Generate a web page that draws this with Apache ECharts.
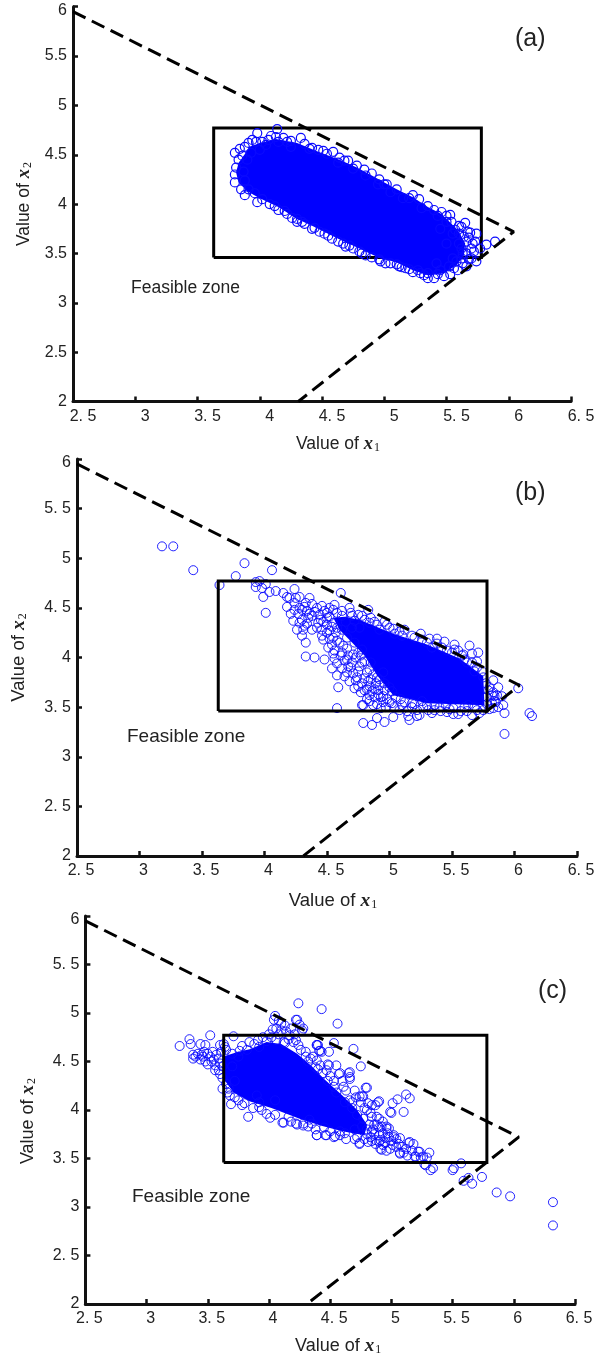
<!DOCTYPE html>
<html><head><meta charset="utf-8">
<style>html,body{margin:0;padding:0;background:#fff}#c{width:604px;height:1358px}</style>
<script src="https://cdn.jsdelivr.net/npm/echarts@6/dist/echarts.min.js"></script>
</head><body><div id="c"></div>
<script>
const xTickLabels = ['2. 5','3','3. 5','4','4. 5','5','5. 5','6','6. 5'];
const yTickLabelsA = ['2','2.5','3','3.5','4','4.5','5','5.5','6'];
const yTickLabelsBC = ['2','2. 5','3','3. 5','4','4. 5','5','5. 5','6'];
const feasibleEdge = [[2.5,5.95],[6.04,3.72],[4.31,2]];
const designBox = [[3.63,3.46],[3.63,4.77],[5.78,4.77],[5.78,3.46],[3.63,3.46]];

const coreA = [[3.83,4.42],[3.86,4.47],[3.92,4.58],[4.00,4.62],[4.13,4.66],[4.30,4.62],[4.47,4.53],[4.64,4.45],[4.78,4.37],[4.90,4.29],[5.10,4.15],[5.23,4.07],[5.35,3.97],[5.46,3.90],[5.54,3.80],[5.60,3.72],[5.65,3.60],[5.64,3.48],[5.58,3.38],[5.48,3.30],[5.35,3.28],[5.23,3.33],[5.10,3.41],[4.97,3.45],[4.80,3.55],[4.63,3.65],[4.42,3.78],[4.30,3.85],[4.15,3.97],[4.00,4.06],[3.90,4.13],[3.83,4.22],[3.81,4.32]];
const ringsA = [[3.80,4.52],[3.86,4.49],[3.83,4.45],[3.81,4.37],[3.80,4.30],[3.80,4.22],[3.85,4.15],[3.88,4.09],[3.98,4.02],[3.96,4.11],[3.91,4.62],[3.94,4.65],[3.98,4.72],[4.02,4.63],[4.09,4.69],[4.14,4.76],[4.13,4.68],[4.19,4.67],[4.25,4.64],[4.33,4.67],[4.36,4.61],[4.47,4.55],[4.51,4.54],[4.59,4.53],[4.64,4.47],[4.71,4.44],[4.78,4.39],[4.90,4.31],[4.15,3.94],[4.30,3.82],[4.42,3.75],
[5.23,4.09],[5.35,3.98],[5.46,3.92],[5.53,3.89],[5.54,3.82],[5.65,3.81],[5.62,3.77],[5.69,3.71],[5.74,3.70],[5.73,3.62],[5.77,3.55],[5.82,3.59],[5.89,3.62],[5.74,3.42],[5.66,3.37],[5.59,3.33],[5.53,3.29],[5.48,3.27],[5.40,3.25],[5.35,3.25],[5.29,3.30],[5.23,3.31],[5.17,3.35],[5.10,3.39],[5.01,3.40],[4.96,3.44],
[4.05,4.60],[3.93,4.52],[3.90,4.45],[3.87,4.33],[3.88,4.24],[3.91,4.15],[4.02,4.05],[4.08,4.00],[4.22,3.90],[4.36,3.80],[4.52,3.70],[4.63,3.62],[4.69,3.57],[4.75,3.55],[4.85,3.48],[4.97,3.42],[4.30,3.85],[4.48,3.72],[4.58,3.65],[4.80,3.52],
[5.60,3.70],[5.66,3.62],[5.70,3.55],[5.66,3.50],[5.70,3.45],[5.62,3.45],[5.58,3.42],[5.52,3.37],[5.45,3.33],[5.35,3.30],[5.27,3.33],[5.12,3.37],[5.62,3.55],[5.55,3.70],[5.60,3.78],[5.50,3.82],[5.43,3.88],[5.30,3.96],[5.15,4.06],[5.05,4.12],[4.95,4.20],[4.85,4.29],[4.75,4.36],[4.63,4.42],[5.68,3.66],[5.63,3.40],[5.55,3.45],[5.60,3.60],[5.45,3.75],[5.50,3.60],[5.42,3.40],[4.40,4.56],[4.15,4.63],[4.00,4.55],[4.25,4.58],[5.00,4.20],[5.20,4.06],
[4.12,3.98],[4.20,3.93],[4.26,3.86],[4.34,3.82],[4.44,3.76],[4.55,3.68],[4.67,3.60],[4.72,3.58],[4.82,3.50],[4.90,3.46],[5.05,3.40],[5.14,3.36],[5.20,3.34],[5.32,3.28],[5.43,3.29],[5.56,3.35],[5.63,3.50],[3.84,4.56],[3.88,4.58],[3.97,4.63],[4.07,4.65],[4.22,4.63],[4.42,4.57],[4.54,4.51],[4.68,4.44],[4.84,4.35],[4.96,4.25],[5.02,4.20],[5.10,4.15],[5.28,4.05],[5.40,3.94],[5.50,3.88],[5.67,3.72],[5.71,3.60],[5.68,3.44],[5.72,3.52],[5.64,3.67],[5.57,3.74]];

const coreB = [[4.55,4.40],[4.64,4.41],[4.76,4.38],[5.03,4.24],[5.30,4.13],[5.56,3.99],[5.75,3.81],[5.76,3.52],[5.30,3.54],[5.03,3.62],[4.90,3.82],[4.80,4.02],[4.70,4.15],[4.60,4.28]];
const ringsB = [[3.18,5.12],[3.27,5.12],[3.43,4.88],[3.84,4.95],[3.77,4.82],[4.06,4.88],[3.64,4.73],[3.93,4.76],[3.96,4.77],[3.93,4.71],[4.01,4.74],[3.99,4.61],[4.01,4.45],[3.98,4.70],[4.04,4.66],[4.09,4.67],[4.15,4.65],[4.24,4.69],[4.18,4.61],[4.61,4.65],
[4.20,4.60],[4.18,4.51],[4.24,4.55],[4.28,4.61],[4.36,4.60],[4.23,4.37],[4.26,4.28],[4.31,4.28],[4.33,4.15],[4.33,4.01],[4.40,4.00],[4.48,3.98],[4.54,3.89],[4.58,3.94],[4.58,3.82],[4.64,3.81],[4.59,3.70],[4.72,3.69],[4.75,3.71],[4.58,3.49],[4.78,3.52],[4.30,4.48],[4.40,4.46],[4.42,4.30],[4.46,4.28],[4.54,4.13],[4.56,4.53],[4.68,4.50],[4.75,4.43],[4.52,4.41],[4.35,4.40],[4.30,4.38],[4.56,3.99],[4.67,3.91],[4.71,4.03],[4.66,4.09],[4.75,3.86],
[4.83,4.48],[4.88,4.36],[5.03,4.29],[5.32,4.19],[5.38,4.19],[5.52,4.13],[5.64,4.12],[5.71,4.05],[5.66,4.04],[5.59,4.03],[5.74,3.86],[5.83,3.77],[5.87,3.70],[6.03,3.69],[5.79,3.67],[5.84,3.61],[5.90,3.61],[5.91,3.52],[5.87,3.50],[5.92,3.44],[6.12,3.44],[6.14,3.41],[5.82,3.54],[5.83,3.49],
[5.16,3.37],[4.96,3.35],[4.90,3.39],[4.86,3.32],[4.79,3.34],[5.24,3.42],[5.22,3.41],[4.79,3.52],[4.93,3.49],[5.03,3.40],[5.15,3.41],[5.34,3.44],[5.51,3.43],[5.55,3.43],[5.66,3.42],[5.72,3.44],[5.48,3.48],[5.92,3.23],
[4.80,3.67],[4.84,3.62],[4.88,3.60],[4.80,3.79],[4.84,3.71],[4.91,3.67],[4.95,3.61],[5.02,3.54],[5.10,3.52],[5.18,3.50],[5.27,3.50],[5.40,3.50],[4.87,3.52],[4.96,3.74],
[4.50,4.40],[4.55,4.35],[4.62,4.42],[4.50,4.25],[4.55,4.20],[4.60,4.15],[4.62,4.28],[4.66,4.20],[4.70,4.30],[4.72,4.15],[4.75,4.05],[4.70,3.95],[4.78,3.95],[4.82,3.85],[4.85,3.95],[4.85,3.78],[4.90,3.80],[4.95,3.85],[4.88,3.68],[4.93,3.60],[5.00,3.70],[5.05,3.60],[5.00,3.55],[5.12,3.55],[5.20,3.53],[5.30,3.52],[5.45,3.52],[5.60,3.50],[5.68,3.50],[4.38,4.42],[4.42,4.50],[4.48,4.47],[4.52,4.50],[4.34,4.47],[4.28,4.50],[4.33,4.55],[4.25,4.60],[4.70,4.42],[4.80,4.38],[4.90,4.33],[5.00,4.30],[5.10,4.22],[5.20,4.20],[5.30,4.15],[5.42,4.10],[5.50,4.05],[5.60,3.98],[5.70,3.90],[5.75,3.80],[5.80,3.70],[5.78,3.60],[5.78,3.53],
[4.45,4.38],[4.58,4.30],[4.47,4.18],[4.52,4.27],[4.66,3.98],[4.62,4.05],[4.78,4.08],[4.74,3.80],[4.68,3.76],[4.82,3.58],[4.92,3.72],[4.97,3.50],[5.08,3.47],[5.36,3.47],[5.62,3.46],[4.58,4.45],[4.65,4.36],[4.76,4.30],[4.85,4.40],[4.96,4.36],[5.12,4.28],[5.25,4.24],[5.44,4.16],[5.55,4.07],[5.66,3.95],[5.82,3.62],[5.84,3.56],
[4.36,4.44],[4.44,4.43],[4.50,4.45],[4.47,4.36],[4.54,4.31],[4.43,4.35],[4.50,4.33],[4.57,4.25],[4.46,4.22],[4.52,4.19],[4.58,4.17],[4.63,4.12],[4.51,4.10],[4.56,4.07],[4.61,4.02],[4.67,4.02],[4.55,4.04],[4.64,3.97],[4.69,3.90],[4.73,4.00],[4.77,4.02],[4.62,3.89],[4.66,3.85],[4.71,3.84],[4.76,3.91],[4.80,3.96],[4.84,3.88],[4.73,3.77],[4.78,3.74],[4.83,3.76],[4.87,3.83],[4.89,3.74],[4.92,3.78],[4.77,3.65],[4.82,3.68],[4.86,3.66],[4.91,3.63],[4.96,3.67],[4.98,3.58],[5.02,3.66],[4.84,3.56],[4.90,3.53],[4.95,3.55],[5.04,3.50],[5.09,3.58],[5.14,3.46],[5.18,3.54],[5.22,3.47],[5.26,3.56],[5.31,3.47],[5.36,3.52],[5.41,3.46],[5.46,3.45],[5.51,3.49],[5.57,3.46],[5.63,3.52],[5.70,3.47],[5.75,3.47],[5.80,3.48],[5.85,3.55],[5.83,3.65],[5.86,3.62],[5.77,3.74],[5.70,3.96],[5.62,3.95],[5.68,3.86],[5.58,4.02],[5.52,4.08],[5.46,4.07],[5.38,4.14],[5.34,4.10],[5.26,4.18],[5.18,4.22],[5.08,4.26],[5.04,4.24],[4.98,4.33],[4.92,4.28],[4.84,4.35],[4.78,4.42],[4.72,4.37],[4.69,4.45],[4.62,4.47],[4.55,4.48],[4.46,4.52],[4.38,4.54],[4.32,4.51],[4.27,4.44],[4.24,4.48],[4.21,4.44],[4.28,4.35],[4.34,4.34],[4.38,4.28],[4.30,4.22],[4.32,4.32]];

const coreC = [[3.62,4.55],[3.75,4.60],[3.85,4.63],[3.98,4.70],[4.10,4.68],[4.23,4.58],[4.35,4.45],[4.45,4.32],[4.60,4.15],[4.72,4.00],[4.80,3.85],[4.78,3.74],[4.60,3.78],[4.42,3.84],[4.25,3.91],[4.02,4.02],[3.84,4.09],[3.71,4.18],[3.63,4.32]];
const ringsC = [[4.24,5.10],[4.43,5.04],[4.56,4.89],[4.22,4.93],[4.05,4.97],[4.04,4.93],[4.10,4.89],[4.25,4.88],[4.27,4.82],[3.27,4.66],[3.35,4.73],[3.36,4.68],[3.44,4.68],[3.48,4.67],[3.52,4.77],[3.38,4.57],[3.38,4.53],[3.45,4.57],[3.71,4.76],[3.63,4.68],[3.83,3.93],[3.69,4.06],[4.11,3.87],[4.39,3.74],[4.22,3.86],[4.28,3.86],[4.69,4.63],[4.75,4.45],[4.53,4.69],[4.55,4.46],[4.57,4.37],[4.65,4.38],[4.66,4.32],[4.79,4.23],[4.49,4.60],[4.48,4.47],[4.40,4.67],[4.41,4.61],[4.90,4.09],[5.01,4.07],[5.05,4.11],[5.12,4.16],[5.15,4.12],[5.10,3.98],[4.99,3.98],[4.84,4.05],[4.74,4.14],[4.77,4.14],[4.80,4.00],
[5.14,3.66],[5.18,3.65],[5.31,3.56],[5.23,3.57],[5.20,3.52],[5.24,3.51],[5.29,3.51],[5.27,3.44],[5.32,3.38],[5.34,3.40],[5.50,3.38],[5.57,3.45],[5.59,3.27],[5.63,3.30],[5.66,3.24],[5.74,3.31],[5.86,3.15],[5.97,3.11],[6.32,3.05],[6.32,2.81],
[4.98,3.81],[5.02,3.74],[4.95,3.71],[4.90,3.74],[5.07,3.71],[5.01,3.64],[5.07,3.55],[5.10,3.56],[4.91,3.60],[4.95,3.66],[4.96,3.83],[5.04,3.62],[4.87,3.69],[4.74,3.66],[4.63,3.70],[4.54,3.73],[4.46,3.74],[4.82,3.85],[4.90,3.91],[4.77,3.91],
[3.42,4.58],[3.46,4.55],[3.50,4.58],[3.54,4.60],[3.53,4.50],[3.59,4.53],[3.48,4.50],[3.59,4.41],[3.56,4.46],[3.62,4.33],[3.60,4.67],[3.64,4.65],[3.76,4.61],[3.84,4.70],[3.91,4.72],[3.98,4.71],[4.06,4.72],[4.13,4.69],[4.20,4.70],[4.06,4.84],[4.03,4.83],[4.10,4.82],[4.23,4.93],[4.28,4.84],[4.14,4.81],[4.17,4.77],[4.39,4.67],[4.43,4.60],[4.36,4.55],[4.42,4.46],[4.47,4.41],[4.39,4.51],[4.24,4.67],
[3.68,4.15],[3.75,4.10],[3.87,4.02],[3.98,3.96],[4.01,3.92],[4.12,3.87],[4.23,3.85],[4.39,3.74],[4.47,3.74],[3.78,4.05],[3.94,4.00],[4.16,3.93],[4.33,3.90],[3.67,4.22],[3.65,4.27],
[4.53,3.72],[4.74,3.65],[4.28,3.84],[4.66,4.39],[4.66,4.34],[4.58,4.38],[4.49,4.46],[4.42,4.61],[4.39,4.67],[4.80,4.23],[4.76,4.14],[4.71,4.13],[4.89,4.08],[4.87,4.05],[4.81,4.07],[4.84,3.93],[4.88,3.93],[4.66,4.10],[4.61,4.24],[4.53,4.24],[5.00,3.97],[4.96,3.81],[5.02,3.72],[4.91,3.69],[5.06,3.65],[4.99,3.60],[5.15,3.67],[5.22,3.57],[5.19,3.52],[5.26,3.52],[5.28,3.43],[5.51,3.40],[4.92,3.59],[4.87,3.65],[4.81,3.67],[4.93,3.76],[5.07,3.56],[5.13,3.53],
[4.62,3.76],[4.72,3.72],[4.80,3.75],[4.85,3.80],[4.70,3.80],[4.58,3.78],[4.45,3.82],[4.35,3.86],[4.68,4.02],[4.72,3.95],[4.62,4.08],[4.55,4.18],[4.48,4.30],[4.40,4.42],[4.30,4.55],[4.05,4.10],[3.90,4.15],[3.92,4.08],[3.72,4.30],[3.70,4.45],[3.75,4.55],[3.92,4.65],[4.00,4.78],[4.12,4.70],[4.32,4.50],
[3.40,4.55],[3.44,4.52],[3.47,4.60],[3.52,4.55],[3.55,4.52],[3.50,4.47],[3.57,4.57],[3.60,4.48],[3.56,4.41],[3.60,4.37],[3.61,4.60],[3.62,4.45],[3.65,4.62],[3.70,4.58],[3.78,4.66],[3.82,4.62],[3.88,4.68],[3.95,4.75],[4.02,4.75],[4.08,4.78],[4.16,4.73],[4.21,4.78],[4.13,4.87],[4.18,4.84],[4.08,4.92],[4.22,4.72],[4.26,4.62],[4.30,4.60],[4.34,4.53],[4.38,4.44],[4.44,4.38],[4.50,4.35],[4.53,4.30],[4.60,4.30],[4.63,4.20],[4.70,4.20],[4.68,4.08],[4.75,4.08],[4.78,4.02],[4.83,3.97],[4.86,3.85],[4.80,3.80],[4.90,3.82],[4.86,3.75],[4.92,3.83],[4.98,3.72],[4.90,3.67],[4.70,3.70],[4.58,3.74],[4.50,3.78],[4.38,3.80],[4.32,3.83],[4.18,3.88],[4.05,3.95],[3.92,4.03],[3.80,4.07],[3.72,4.13],[3.66,4.18],[3.62,4.22],
[4.84,3.78],[4.88,3.85],[4.93,3.88],[4.97,3.76],[5.00,3.68],[5.04,3.70],[5.09,3.62],[5.12,3.60],[5.17,3.58],[4.83,3.72],[4.78,3.70],[4.84,3.68],[4.76,3.83],[4.93,3.64],[4.96,3.58]];

const panels = [
  {key:'a', rings:ringsA, core:coreA, yLabels:yTickLabelsA, left:73, right:571, top:6.7, bottom:401.5, xShift:20, axisW:3, xPad:32, yPad:0, yGap:37, xGap:33, ringW:1.2, boxZ:2, ringZ:3, markZ:4, nameFs:17.5},
  {key:'b', rings:ringsB, core:coreB, yLabels:yTickLabelsBC, left:77, right:577, top:459, bottom:856, xShift:8, axisW:3, xPad:12, yPad:0, yGap:48, xGap:35, ringW:0.9, boxZ:4, ringZ:3, markZ:5, nameFs:18.5},
  {key:'c', rings:ringsC, core:coreC, yLabels:yTickLabelsBC, left:85.4, right:575, top:916, bottom:1304, xShift:8, axisW:3, xPad:16, yPad:22, yGap:48, xGap:33, ringW:0.9, boxZ:4, ringZ:3, markZ:5, nameFs:18}
];
const SANS = '"Liberation Sans", Arial, sans-serif';
const nameRich = (fs) => ({
  t:{fontFamily:SANS,fontSize:fs,color:'#222'},
  x:{fontFamily:'"Liberation Serif",serif',fontSize:fs+1,fontStyle:'italic',fontWeight:'bold',color:'#222'},
  s:{fontFamily:'"Liberation Serif",serif',fontSize:12,color:'#222',verticalAlign:'bottom',padding:[4,0,0,1]}
});
const grid=[],xAxis=[],yAxis=[],series=[];
panels.forEach((p,i)=>{
  grid.push({left:p.left,width:p.right-p.left,top:p.top,height:p.bottom-p.top,show:false});
  xAxis.push({type:'value',gridIndex:i,min:2.5,max:6.5,interval:0.5,splitLine:{show:false},
    axisLine:{onZero:false,lineStyle:{color:'#111',width:p.axisW}},
    axisTick:{inside:true,length:5,lineStyle:{color:'#111',width:2.5}},
    axisLabel:{margin:7,fontSize:16,fontFamily:SANS,color:'#222',showMinLabel:true,showMaxLabel:true,hideOverlap:false,
      padding:[0,0,0,p.xShift],formatter:(v)=>xTickLabels[Math.round((v-2.5)/0.5)]},
    name:'{t|Value of }{x|x}{s|1}',nameLocation:'middle',nameGap:p.xGap,
    nameTextStyle:{rich:nameRich(p.nameFs),padding:[0,0,0,p.xPad]}
  });
  yAxis.push({type:'value',gridIndex:i,min:2,max:6,interval:0.5,splitLine:{show:false},
    axisLine:{onZero:false,lineStyle:{color:'#111',width:p.axisW}},
    axisTick:{inside:true,length:5,lineStyle:{color:'#111',width:2.5}},
    axisLabel:{margin:6,fontSize:16,fontFamily:SANS,color:'#222',showMinLabel:true,showMaxLabel:true,hideOverlap:false,
      formatter:(v)=>{const s=p.yLabels[Math.round((v-2)/0.5)];return v===6?'{d|'+s+'}':s;},
      rich:{d:{fontSize:16,fontFamily:SANS,color:'#222',padding:[8,0,0,0]}}},
    name:'{t|Value of }{x|x}{s|2}',nameLocation:'middle',nameGap:p.yGap,
    nameTextStyle:{rich:nameRich(p.nameFs),padding:[0,p.yPad,0,0]}
  });
  series.push({type:'custom',name:'core '+p.key,coordinateSystem:'cartesian2d',xAxisIndex:i,yAxisIndex:i,z:p.ringZ,clip:false,silent:true,
    data:p.core,encode:{x:0,y:1},
    renderItem:(params,api)=>{
      if(params.dataIndex!==0) return null;
      return {type:'polygon',shape:{points:p.core.map(c=>api.coord(c))},style:{fill:'#0000ff'}};
    }});
  series.push({type:'scatter',name:'samples '+p.key,xAxisIndex:i,yAxisIndex:i,z:p.ringZ,symbol:'circle',symbolSize:9,clip:false,silent:true,
    data:p.rings,itemStyle:{color:'transparent',borderColor:'#0a0aff',borderWidth:p.ringW,opacity:1}});
  series.push({type:'line',name:'design box '+p.key,xAxisIndex:i,yAxisIndex:i,z:p.boxZ,data:designBox,symbol:'none',silent:true,clip:false,
    lineStyle:{color:'#000',width:3,join:'miter'}});
  series.push({type:'line',name:'feasible edge '+p.key,xAxisIndex:i,yAxisIndex:i,z:p.markZ,data:feasibleEdge,symbol:'none',silent:true,clip:false,
    lineStyle:{color:'#000',width:3,type:[14,7]}});
});
const noteStyle=(t,fs)=>({text:t,font:fs+'px '+SANS,fill:'#222'});
const graphic=[
  {type:'text',left:131,top:279,style:noteStyle('Feasible zone',17.5)},
  {type:'text',left:127,top:727,style:noteStyle('Feasible zone',19)},
  {type:'text',left:132,top:1187,style:noteStyle('Feasible zone',19)},
  {type:'text',left:515,top:27,style:noteStyle('(a)',25)},
  {type:'text',left:515,top:481,style:noteStyle('(b)',25)},
  {type:'text',left:538,top:979,style:noteStyle('(c)',25)}
];
const chart=echarts.init(document.getElementById('c'),null,{renderer:'canvas'});
chart.setOption({animation:false,backgroundColor:'#fff',grid,xAxis,yAxis,series,graphic});
</script></body></html>
